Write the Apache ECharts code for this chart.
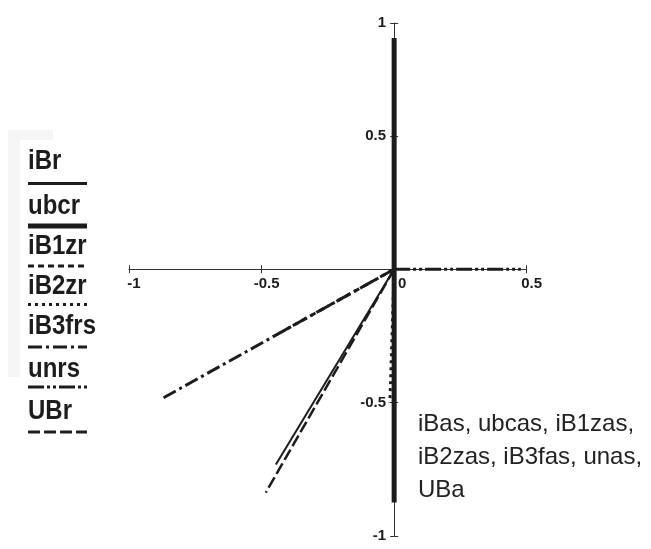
<!DOCTYPE html>
<html>
<head>
<meta charset="utf-8">
<script src="https://cdn.jsdelivr.net/npm/echarts@6/dist/echarts.min.js"></script>
<style>html,body{margin:0;padding:0;background:#fff}#c{width:651px;height:549px}</style>
</head>
<body>
<div id="c"></div>
<script>
// ---- data ----
const seriesNames = ['iBr', 'ubcr', 'iB1zr', 'iB2zr', 'iB3frs', 'unrs', 'UBr'];
const iBr    = [[0, 0], [-0.446, -0.732]];
const ubcr   = [[0, 0.867], [0, 0], [0, -0.874]];
const iB1zr  = [[0, 0], [-0.43, -0.238]];
const iB2zr  = [[0, 0], [-0.016, -0.5]];
const iB3frs = [[0, 0], [-0.87, -0.482]];
const unrs   = [[0, 0], [0.478, 0]];
const UBr    = [[0, 0], [-0.484, -0.837]];
const xTicks = [-1, -0.5, 0, 0.5];
const xTickLabels = ['-1', '-0.5', '0', '0.5'];
const yTicks = [-1, -0.5, 0, 0.5, 0.923];
const yTickLabels = ['-1', '-0.5', '', '0.5', '1'];
const annotation = ['iBas, ubcas, iB1zas,', 'iB2zas, iB3fas, unas,', 'UBa'];

// ---- styles ----
const FONT = '"Liberation Sans", Arial, sans-serif';
const INK = '#1c1c1c';
const styles = {
  iBr:    { width: 2,   dash: 'solid', legendWidth: 3 },
  ubcr:   { width: 5,   dash: 'solid', legendWidth: 5 },
  iB1zr:  { width: 3,   dash: [6, 4], legendWidth: 3 },
  iB2zr:  { width: 3,   dash: [3, 4], legendWidth: 3 },
  iB3frs: { width: 3,   dash: [14, 4, 3, 4], legendWidth: 3 },
  unrs:   { width: 3,   dash: [16, 3, 3, 3, 3, 3], legendWidth: 3 },
  UBr:    { width: 2.5, dash: [12, 4], legendWidth: 3 }
};
const seriesData = { iBr, ubcr, iB1zr, iB2zr, iB3frs, unrs, UBr };

function lookup(ticks, labels, v) {
  let best = 0;
  for (let i = 1; i < ticks.length; i++) if (Math.abs(ticks[i] - v) < Math.abs(ticks[best] - v)) best = i;
  return labels[best];
}

const chart = echarts.init(document.getElementById('c'), null, { renderer: 'canvas' });

const labelFont = { fontFamily: FONT, fontWeight: 'bold', fontSize: 15, color: INK };

const xBase = { type: 'value', min: -1, max: 0.5, interval: 0.5, position: 'bottom', splitLine: { show: false } };
const yBase = { type: 'value', min: -1, max: 0.923, interval: 0.5, position: 'left', splitLine: { show: false } };

const g = [];
g.push({ type: 'rect', left: 8, top: 130, shape: { width: 45, height: 247 }, style: { fill: '#f5f5f5' }, z: 0 });
g.push({ type: 'rect', left: 20, top: 140, shape: { width: 90, height: 300 }, style: { fill: '#ffffff' }, z: 1 });
const textCenters = [162, 207, 247, 287, 327, 370, 411.5];
const lineYs = [183.5, 226, 266, 304.5, 347, 387, 432];
seriesNames.forEach((n, i) => {
  g.push({
    type: 'text', x: 28, y: textCenters[i], z: 2, scaleY: 1.12, originX: 0, originY: 0,
    style: { text: n, fontFamily: FONT, fontWeight: 'bold', fontSize: 24, fill: INK, verticalAlign: 'middle', align: 'left' }
  });
  const st = styles[n];
  g.push({
    type: 'line', z: 2,
    shape: { x1: 28, y1: lineYs[i], x2: 87, y2: lineYs[i] },
    style: { stroke: INK, lineWidth: st.legendWidth, lineDash: st.dash === 'solid' ? null : st.dash }
  });
});
g.push({
  type: 'text', x: 418, y: 408, z: 2,
  style: { text: annotation.join('\n'), fontFamily: FONT, fontSize: 24, lineHeight: 33, fill: '#222', align: 'left', verticalAlign: 'top' }
});

function buildOption(xOff, yOff) {
  return {
    backgroundColor: '#ffffff',
    animation: false,
    grid: { left: 129, right: 124.3, top: 23, bottom: 13, containLabel: false, outerBoundsMode: 'none' },
    xAxis: [
      Object.assign({}, xBase, {
        offset: xOff,
        axisLine: { onZero: false, lineStyle: { color: '#333', width: 1 } },
        axisTick: { show: true, inside: false, length: 4, lineStyle: { color: '#333' } },
        axisLabel: Object.assign({}, labelFont, {
          margin: 7, showMinLabel: true, showMaxLabel: true,
          formatter: v => { const t = lookup(xTicks, xTickLabels, v); return v === 0 ? '{z|' + t + '}' : '{n|' + t + '}'; },
          rich: { z: Object.assign({}, labelFont, { padding: [0, 0, 0, 16] }), n: Object.assign({}, labelFont, { padding: [0, 0, 0, 10] }) }
        })
      }),
      Object.assign({}, xBase, {
        offset: xOff,
        axisLine: { show: false, onZero: false },
        axisTick: { show: true, inside: true, length: 4, lineStyle: { color: '#333' } },
        axisLabel: { show: false }
      })
    ],
    yAxis: [
      Object.assign({}, yBase, {
        offset: yOff,
        axisLine: { onZero: false, lineStyle: { color: '#333', width: 1 } },
        axisTick: { show: true, inside: false, length: 4, lineStyle: { color: '#333' } },
        axisLabel: Object.assign({}, labelFont, {
          margin: 8, showMaxLabel: true, showMinLabel: true,
          formatter: v => lookup(yTicks, yTickLabels, v)
        })
      }),
      Object.assign({}, yBase, {
        offset: yOff,
        axisLine: { show: false, onZero: false },
        axisTick: { show: true, inside: true, length: 4, lineStyle: { color: '#333' } },
        axisLabel: { show: false }
      })
    ],
    graphic: g,
    series: seriesNames.map(n => ({
      name: n,
      type: 'line',
      xAxisIndex: 0, yAxisIndex: 0,
      data: seriesData[n],
      symbol: 'none',
      silent: true,
      lineStyle: { color: INK, width: styles[n].width, type: styles[n].dash, cap: 'butt' },
      z: 3
    }))
  };
}
chart.setOption(buildOption(0, 0));
// place both axes through the origin (crossing at zero), using the chart's own scales
const origin = chart.convertToPixel({ gridIndex: 0 }, [0, 0]);
const corner = chart.convertToPixel({ gridIndex: 0 }, [-1, -1]);
chart.setOption(buildOption(-(corner[1] - origin[1]), -(origin[0] - corner[0])), { notMerge: true });
</script>
</body>
</html>
